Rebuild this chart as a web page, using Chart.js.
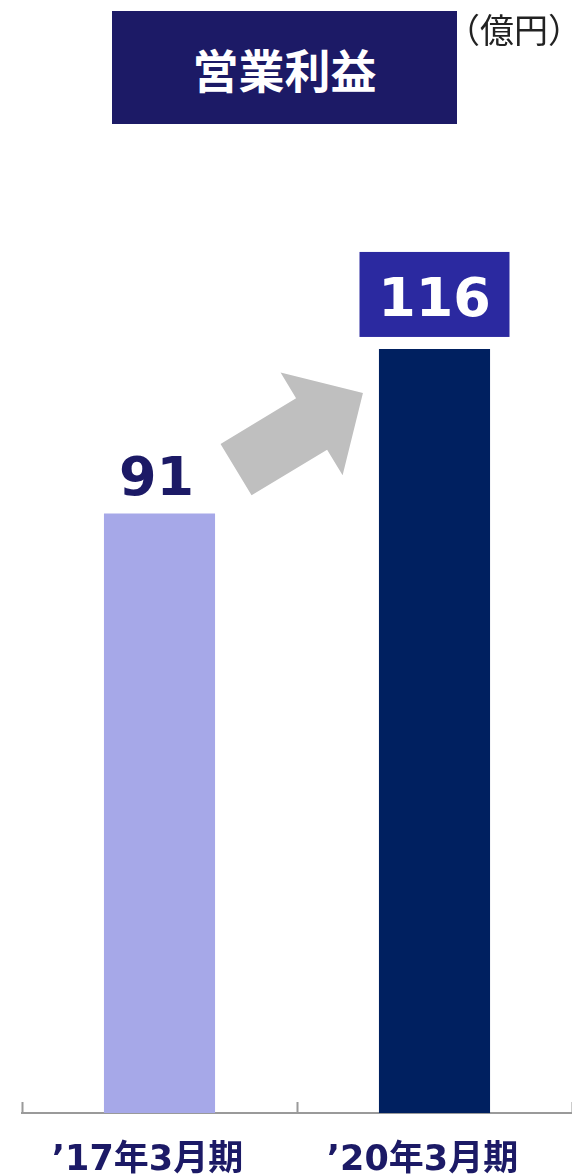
<!DOCTYPE html>
<html>
<head>
<meta charset="utf-8">
<script src="https://cdn.jsdelivr.net/npm/chart.js@4"></script>
<style>
  body { margin: 0; overflow: hidden; background: #fff; }
  #wrap { position: relative; width: 572px; height: 1232px; }
  .title {
    position: absolute; left: 112px; top: 11px; width: 345px; height: 113px;
    background: #1c1a66; color: #fff; font: bold 46px 'Noto Sans CJK JP', sans-serif;
    display: flex; align-items: center; justify-content: center;
  }
  .unit {
    position: absolute; left: 446px; top: 7px; color: #222;
    font: 34px 'Noto Sans CJK JP', sans-serif; line-height: 44px; white-space: nowrap;
    font-feature-settings: "chws" 0;
  }
</style>
</head>
<body>
<div id="wrap">
  <canvas id="chart" width="572" height="1232"></canvas>
  <div class="title">営業利益</div>
  <div class="unit">（億円）</div>
</div>
<script>
  // data
  const categories = ['’17年3月期', '’20年3月期'];
  const profit = [91, 116];
  const barColors = ['#a6a8e8', '#002060'];
  const yMax = 150;

  const NAVY = '#1c1a66';
  const AXIS = '#9a9a9a';

  // value labels above bars; last one gets a boxed label
  const valueLabels = {
    id: 'valueLabels',
    afterDatasetsDraw(chart) {
      const ctx = chart.ctx;
      const bars = chart.getDatasetMeta(0).data;
      ctx.save();
      ctx.font = 'bold 54px "DejaVu Sans"';
      ctx.textAlign = 'center';
      ctx.textBaseline = 'alphabetic';
      bars.forEach((bar, i) => {
        const txt = String(profit[i]);
        if (i === bars.length - 1) {
          ctx.fillStyle = '#2b29a0';
          ctx.fillRect(bar.x - 75, bar.y - 97, 150, 85);
          ctx.fillStyle = '#fff';
          ctx.fillText(txt, bar.x, bar.y - 33);
        } else {
          ctx.fillStyle = NAVY;
          ctx.fillText(txt, bar.x - 3, bar.y - 19);
        }
      });
      ctx.restore();
    }
  };

  // grey growth arrow between the two bar tops
  const growthArrow = {
    id: 'growthArrow',
    afterDatasetsDraw(chart) {
      const bars = chart.getDatasetMeta(0).data;
      const a = bars[0], b = bars[1];
      const sx = a.x + a.width / 2 + 21, sy = a.y - 44;
      const ex = b.x - b.width / 2 - 16, ey = b.y + 44;
      const dx = ex - sx, dy = ey - sy, len = Math.hypot(dx, dy);
      const ux = dx / len, uy = dy / len, nx = -uy, ny = ux;
      const shaft = 30, head = 60, headLen = 60;
      const hx = ex - ux * headLen, hy = ey - uy * headLen;
      const pts = [
        [sx + nx * shaft, sy + ny * shaft],
        [hx + nx * shaft, hy + ny * shaft],
        [hx + nx * head, hy + ny * head],
        [ex, ey],
        [hx - nx * head, hy - ny * head],
        [hx - nx * shaft, hy - ny * shaft],
        [sx - nx * shaft, sy - ny * shaft]
      ];
      const ctx = chart.ctx;
      ctx.save();
      ctx.fillStyle = '#bfbfbf';
      ctx.beginPath();
      pts.forEach(([x, y], i) => i ? ctx.lineTo(x, y) : ctx.moveTo(x, y));
      ctx.closePath();
      ctx.fill();
      ctx.restore();
    }
  };

  // small upward tick marks at category boundaries
  const boundaryTicks = {
    id: 'boundaryTicks',
    afterDraw(chart) {
      const x = chart.scales.x;
      const step = x.width / categories.length;
      const ctx = chart.ctx;
      ctx.save();
      ctx.strokeStyle = AXIS;
      ctx.lineWidth = 2;
      ctx.beginPath();
      for (let i = 0; i <= categories.length; i++) {
        const px = Math.round(x.left + i * step) + 0.5;
        ctx.moveTo(px, x.top - 11);
        ctx.lineTo(px, x.top);
      }
      ctx.stroke();
      ctx.restore();
    }
  };

  new Chart(document.getElementById('chart'), {
    type: 'bar',
    data: {
      labels: categories,
      datasets: [{
        data: profit,
        backgroundColor: barColors,
        borderWidth: 0,
        barPercentage: 0.404,
        categoryPercentage: 1
      }]
    },
    options: {
      responsive: false,
      animation: false,
      layout: { padding: { left: 22, right: 0, top: 125, bottom: 24 } },
      plugins: { legend: { display: false }, tooltip: { enabled: false } },
      scales: {
        x: {
          grid: { display: false, drawTicks: false },
          border: { display: true, color: AXIS, width: 2 },
          ticks: {
            color: NAVY,
            padding: 30,
            labelOffset: -12,
            font: { family: '"DejaVu Sans", "Noto Sans CJK JP"', size: 35, weight: 'bold', lineHeight: 1 }
          }
        },
        y: { display: false, min: 0, max: yMax }
      }
    },
    plugins: [growthArrow, valueLabels, boundaryTicks]
  });
</script>
</body>
</html>
